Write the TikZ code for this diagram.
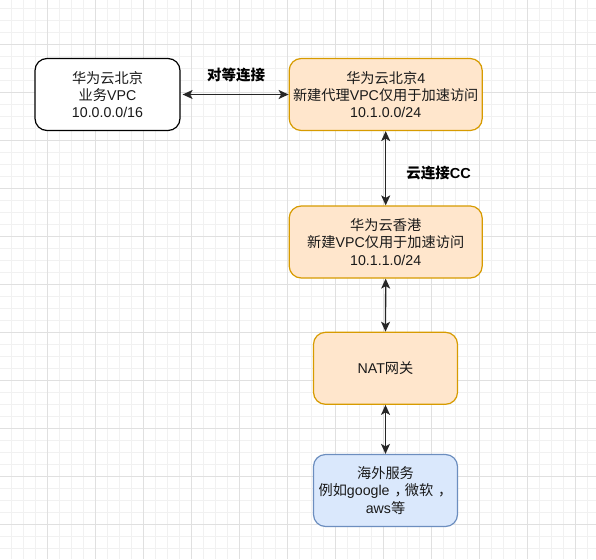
\documentclass[tikz,border=0pt]{standalone}
\usepackage{fontspec}
\setmainfont{Liberation Sans}
\newfontfamily\cjk{Noto Sans CJK SC}
\usetikzlibrary{arrows.meta}
\definecolor{orfill}{HTML}{FFE6CC}
\definecolor{ordraw}{HTML}{D79B00}
\definecolor{blfill}{HTML}{DAE8FC}
\definecolor{bldraw}{HTML}{6C8EBF}
\definecolor{gminor}{HTML}{F1F1F1}
\definecolor{gmajor}{HTML}{E0E0E0}
\tikzset{
  box/.style={rounded corners=12pt, line width=1.2pt, minimum height=72pt, inner sep=0pt, align=center, font=\fontsize{14.2}{17.2}\selectfont, text=black!90},
  plainbox/.style={box, draw=black, fill=white, minimum width=145pt},
  orbox/.style={box, draw=ordraw, fill=orfill},
  blbox/.style={box, draw=bldraw, fill=blfill, minimum width=144pt},
  link/.style={line width=1.3pt, draw=black!85, {Stealth[length=10pt,width=9pt,inset=2.5pt]}-{Stealth[length=10pt,width=9pt,inset=2.5pt]}},
  lbl/.style={font=\fontsize{14.5}{17}\selectfont\bfseries, text=black}
}
\begin{document}
\begin{tikzpicture}[x=1pt,y=-1pt]
\useasboundingbox (0,0) rectangle (596,559);
\fill[white] (0,0) rectangle (596,559);
\foreach \x in {11,23,...,595} \draw[gminor, line width=0.9pt] (\x,0) -- (\x,559);
\foreach \y in {8,20,...,558} \draw[gminor, line width=0.9pt] (0,\y) -- (596,\y);
\foreach \x in {47,95,...,595} \draw[gmajor, line width=0.9pt] (\x,0) -- (\x,559);
\foreach \y in {44,92,...,558} \draw[gmajor, line width=0.9pt] (0,\y) -- (596,\y);

\node[plainbox] (bj) at (107.5,94.5) {{\cjk 华为云北京}\\{\cjk 业务}VPC\\10.0.0.0/16};
\node[orbox, minimum width=193pt] (bj4) at (385.7,94.5) {{\cjk 华为云北京}4\\{\cjk 新建代理}VPC{\cjk 仅用于加速访问}\\10.1.0.0/24};
\node[orbox, minimum width=193pt] (hk) at (385.7,242) {{\cjk 华为云香港}\\{\cjk 新建}VPC{\cjk 仅用于加速访问}\\10.1.1.0/24};
\node[orbox, minimum width=144pt] (nat) at (385.5,368.3) {NAT{\cjk 网关}};
\node[blbox] (ext) at (385.5,490.5) {{\cjk 海外服务}\\{\cjk 例如}google\hspace{5pt}{\cjk ，}\hspace{-4pt}{\cjk 微软}\hspace{5pt}{\cjk ，}\\aws{\cjk 等}};

\draw[link, shorten <=2pt] (bj.east) -- (bj4.west);
\draw[link] (bj4.south) -- (hk.north);
\draw[link] (hk.south) -- (nat.north);
\draw[link] (nat.south) -- (ext.north);

\node[lbl] (l1) at (236,75) {\cjk 对等连接};
\node[lbl] (l2) at (438.5,173) {{\cjk 云连接}CC};
\end{tikzpicture}
\end{document}
